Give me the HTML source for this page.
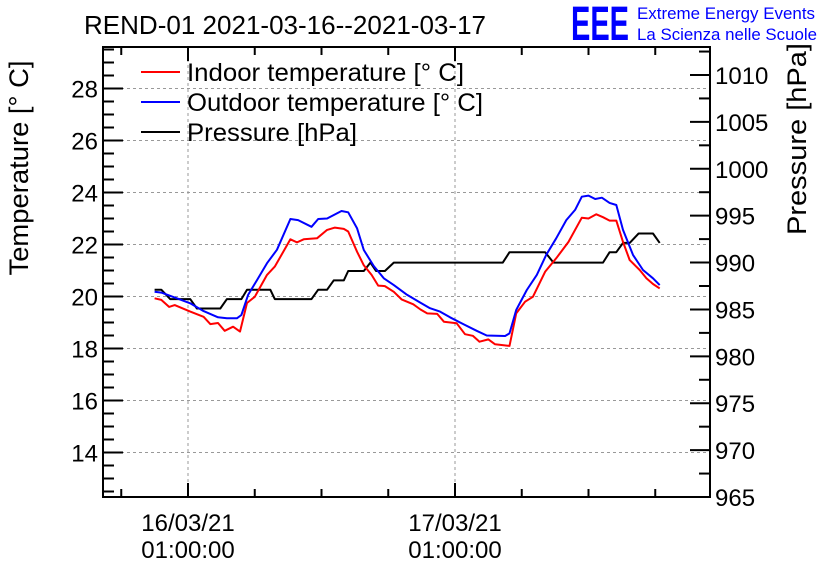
<!DOCTYPE html>
<html><head><meta charset="utf-8">
<style>
body{margin:0;background:#fff;}
svg{display:block;font-family:"Liberation Sans",sans-serif;}
</style></head>
<body>
<svg id="chart" width="836" height="572" viewBox="0 0 836 572">
<rect x="0" y="0" width="836" height="572" fill="#fff"/>
<text x="84" y="34" font-size="26" textLength="402" lengthAdjust="spacingAndGlyphs" fill="#000">REND-01 2021-03-16--2021-03-17</text>
<text x="571" y="40" font-size="48" font-weight="bold" fill="#0000ff" textLength="58" lengthAdjust="spacingAndGlyphs">EEE</text>
<text x="637" y="19" font-size="17" fill="#0000ff" textLength="178" lengthAdjust="spacingAndGlyphs">Extreme Energy Events</text>
<text x="637" y="40" font-size="17" fill="#0000ff" textLength="180" lengthAdjust="spacingAndGlyphs">La Scienza nelle Scuole</text>
<g id="grid"></g>
<g id="series"></g>
<g id="axes"></g>
<text transform="translate(28,168) rotate(-90)" text-anchor="middle" font-size="27" textLength="215" lengthAdjust="spacingAndGlyphs">Temperature [° C]</text>
<text transform="translate(806,139) rotate(-90)" text-anchor="middle" font-size="27" textLength="192" lengthAdjust="spacingAndGlyphs">Pressure [hPa]</text>
<g>
<line x1="141" y1="72" x2="180" y2="72" stroke="#ff0000" stroke-width="2"/>
<text x="187" y="81" font-size="25" textLength="277" lengthAdjust="spacingAndGlyphs">Indoor temperature [° C]</text>
<line x1="141" y1="102" x2="180" y2="102" stroke="#0000ff" stroke-width="2"/>
<text x="187" y="111" font-size="25" textLength="296" lengthAdjust="spacingAndGlyphs">Outdoor temperature [° C]</text>
<line x1="141" y1="132" x2="180" y2="132" stroke="#000" stroke-width="2"/>
<text x="187" y="141" font-size="25" textLength="170" lengthAdjust="spacingAndGlyphs">Pressure [hPa]</text>
</g>
</svg>
<script>
// hours relative to 16/03/21 01:00:00
const indoorH=[-3,-2.4,-1.7,-1.2,0.2,1.4,2,2.7,3.3,4.05,4.67,5.3,6,7.1,7.8,9.2,9.8,10.4,11.6,12.5,13.2,14,14.4,15.2,15.8,16.5,17.1,17.7,18.5,19.2,20.25,20.9,21.5,22.4,23,24.15,24.9,25.6,26.2,27,27.6,28.9,29.5,30.3,31,32.1,33.1,34.2,35.4,36,36.7,37.3,37.9,38.5,39.1,39.7,40.6,41.2,41.8,42.4];
const indoorT=[19.93,19.87,19.6,19.67,19.42,19.22,18.94,18.98,18.68,18.84,18.65,19.75,19.99,20.83,21.15,22.2,22.08,22.2,22.24,22.56,22.65,22.6,22.5,21.72,21.2,20.83,20.42,20.4,20.18,19.89,19.7,19.5,19.35,19.33,19.03,18.97,18.55,18.49,18.26,18.35,18.16,18.1,19.35,19.8,19.99,20.95,21.47,22.1,23.03,23,23.16,23.05,22.92,22.92,22.1,21.4,21.02,20.7,20.48,20.31];
const outdoorH=[-3,-2.4,-1,0.2,1.4,2.7,3.5,4.4,4.8,5.4,6.2,7.1,8,9.2,9.9,11.1,11.7,12.5,13.8,14.4,15.2,15.8,16.7,17.6,18.5,19.7,20.9,21.75,22.65,23.55,24.75,25.95,26.85,28.5,28.9,29.5,30.45,31.35,32.2,33.1,34,34.8,35.4,36,36.6,37.2,37.9,38.5,39.1,40,40.9,41.8,42.4];
const outdoorT=[20.18,20.15,19.93,19.74,19.44,19.2,19.16,19.16,19.29,20.06,20.63,21.28,21.8,22.98,22.94,22.68,22.98,23,23.29,23.24,22.62,21.79,21.17,20.7,20.44,20.06,19.76,19.55,19.42,19.2,18.94,18.68,18.5,18.48,18.58,19.48,20.25,20.83,21.6,22.24,22.94,23.33,23.84,23.88,23.75,23.8,23.6,23.52,22.56,21.6,21.02,20.7,20.44];
const pressH=[-3,-2.4,-1.6,0.2,0.8,2.9,3.5,4.8,5.3,7.4,7.8,11.1,11.7,12.5,13.1,14,14.4,15.8,16.4,16.9,17.7,18.5,28.3,28.9,32.1,32.85,37.3,37.9,38.5,39.1,39.7,40.5,41.8,42.4];
const pressP=[987.1,987.1,986.1,986.1,985.1,985.1,986.1,986.1,987.1,987.1,986.1,986.1,987.1,987.1,988.1,988.1,989.1,989.1,990,989.1,989.1,990,990,991.1,991.1,990,990,991.1,991.1,992.1,992.1,993.1,993.1,992.1];
const tempTicks=[14,16,18,20,22,24,26,28];
const pressTicks=[965,970,975,980,985,990,995,1000,1005,1010];
const xLabelHours=[0,24];
const xLabelDates=["16/03/21","17/03/21"];

const L=103,R=710,T=47,B=497;
const xs=h=>188+h*11.125;
const yT=t=>296.5-(t-20)*26;
const yP=p=>497-(p-965)*9.378;
const NS="http://www.w3.org/2000/svg";
function mk(tag,parent,attrs){const e=document.createElementNS(NS,tag);for(const k in attrs)e.setAttribute(k,attrs[k]);parent.appendChild(e);return e;}
const grid=document.getElementById('grid'),series=document.getElementById('series'),axes=document.getElementById('axes');

tempTicks.forEach(t=>{
  const g=mk('line',grid,{x1:L,x2:R,y1:yT(t),y2:yT(t),stroke:'#999','stroke-dasharray':'3,3','stroke-width':1});
  
  
  const tx=mk('text',axes,{x:L-5,y:yT(t)+9,'text-anchor':'end','font-size':24});
  tx.textContent=t;
  
  
});
xLabelHours.forEach((h,i)=>{
  const g=mk('line',grid,{x1:xs(h),x2:xs(h),y1:T,y2:B,stroke:'#999','stroke-dasharray':'3,3','stroke-width':1});
  
  
  const t1=mk('text',axes,{x:xs(h),y:531,'text-anchor':'middle','font-size':24});
  t1.textContent=xLabelDates[i];
  
  
  const t2=mk('text',axes,{x:xs(h),y:558,'text-anchor':'middle','font-size':24});
  t2.textContent='01:00:00';
  
  
});
pressTicks.forEach(p=>{
  const tx=mk('text',axes,{x:R+5,y:yP(p)+9,'font-size':24});
  tx.textContent=p;
  
  
});
for(let t=12.5;t<=29.5;t+=0.5){const y=yT(t);if(y<T||y>B)continue;const major=Math.abs(t%2)<0.01;
  mk('line',axes,{x1:L,x2:L+(major?20:11),y1:y,y2:y,stroke:'#000','stroke-width':2});}
for(let p=965;p<=1012.5;p+=2.5){const y=yP(p);if(y<T)continue;const major=p%5===0;
  mk('line',axes,{x1:R,x2:R-(major?20:11),y1:y,y2:y,stroke:'#000','stroke-width':2});}
for(let h=-6;h<=48;h+=6){const x=xs(h);if(x<L||x>R)continue;const major=h%24===0;
  mk('line',axes,{x1:x,x2:x,y1:B,y2:B-(major?14:8),stroke:'#000','stroke-width':2});
  mk('line',axes,{x1:x,x2:x,y1:T,y2:T+(major?14:8),stroke:'#000','stroke-width':2});}
const frame=mk('rect',axes,{x:L,y:T,width:R-L,height:B-T,fill:'none',stroke:'#000','stroke-width':2});



function line(H,V,fy,color,name){
  const d=H.map((h,i)=>(i?'L':'M')+xs(h).toFixed(1)+','+fy(V[i]).toFixed(1)).join('');
  const p=mk('path',series,{d:d,fill:'none',stroke:color,'stroke-width':2,'stroke-linejoin':'round'});
  
  
}
line(pressH,pressP,yP,'#000','pressure-line');
line(indoorH,indoorT,yT,'#ff0000','indoor-temperature-line');
line(outdoorH,outdoorT,yT,'#0000ff','outdoor-temperature-line');
</script>
</body></html>
